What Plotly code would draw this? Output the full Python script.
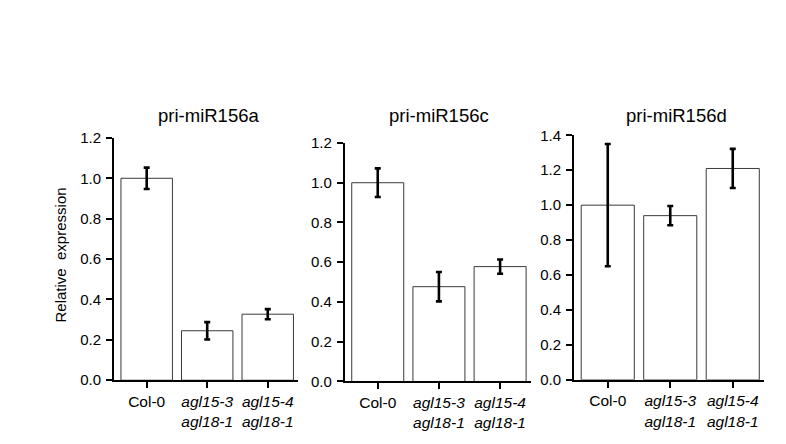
import plotly.graph_objects as go

W, H = 786, 444

categories = ["Col-0", "agl15-3 agl18-1", "agl15-4 agl18-1"]
tick_labels = ["Col-0", "<i>agl15-3</i><br><i>agl18-1</i>", "<i>agl15-4</i><br><i>agl18-1</i>"]
panel_titles = ["pri-miR156a", "pri-miR156c", "pri-miR156d"]

mir156a_values = [1.0, 0.245, 0.327]
mir156a_errors = [0.053, 0.043, 0.025]
mir156c_values = [1.0, 0.477, 0.578]
mir156c_errors = [0.072, 0.074, 0.036]
mir156d_values = [1.0, 0.94, 1.21]
mir156d_errors = [0.35, 0.055, 0.112]

y_max = [1.2, 1.2, 1.4]

values = [mir156a_values, mir156c_values, mir156d_values]
errors = [mir156a_errors, mir156c_errors, mir156d_errors]

# panel geometry in pixels: (x_left, x_right, y_top, y_bottom)
geom = [(106, 290, 125.7, 377.7), (336.7, 522.7, 131, 379), (566, 756, 123, 377.3)]
title_x = [200, 431, 668]

FONT = "Liberation Sans, Arial, sans-serif"

fig = go.Figure()
layout = dict(
    width=W, height=H, margin=dict(l=0, r=0, t=0, b=0),
    paper_bgcolor="white", plot_bgcolor="white",
    showlegend=False, font=dict(family=FONT, color="black", size=15),
)
annotations = []
for i in range(3):
    sfx = "" if i == 0 else str(i + 1)
    xl, xr, yt, yb = geom[i]
    fig.add_trace(go.Bar(
        x=categories, y=values[i],
        xaxis="x" + sfx, yaxis="y" + sfx,
        width=0.85,
        marker=dict(color="white", line=dict(color="#3a3a3a", width=1)),
        error_y=dict(type="data", array=errors[i], visible=True,
                     color="black", thickness=2.6, width=3),
    ))
    layout["xaxis" + sfx] = dict(
        domain=[xl / W, xr / W], anchor="y" + sfx,
        type="category", range=[-0.54, 2.5],
        tickmode="array", tickvals=categories, ticktext=tick_labels,
        showline=True, linecolor="black", linewidth=1.8,
        ticks="outside", ticklen=6, tickwidth=2, tickcolor="black",
        showgrid=False, zeroline=False, tickfont=dict(size=15.5, family=FONT),
        fixedrange=True,
    )
    layout["yaxis" + sfx] = dict(
        domain=[1 - yb / H, 1 - yt / H], anchor="x" + sfx,
        range=[0, y_max[i]], dtick=0.2, tickformat=".1f",
        showline=True, linecolor="black", linewidth=1.8,
        ticks="outside", ticklen=6, tickwidth=2, tickcolor="black",
        ticklabelstandoff=2,
        showgrid=False, zeroline=False, tickfont=dict(size=15, family=FONT),
        fixedrange=True,
    )
    annotations.append(dict(
        text=panel_titles[i], x=title_x[i] / W, y=1 - 102 / H,
        xref="paper", yref="paper", xanchor="center", yanchor="middle",
        showarrow=False, font=dict(size=18.5, family=FONT, color="black"),
    ))

annotations.append(dict(
    text="Relative  expression", x=53 / W, y=1 - 248 / H,
    xref="paper", yref="paper", xanchor="center", yanchor="middle",
    textangle=-90, showarrow=False,
    font=dict(size=15, family=FONT, color="black"),
))
layout["annotations"] = annotations
fig.update_layout(**layout)
fig.write_html("out.html")
